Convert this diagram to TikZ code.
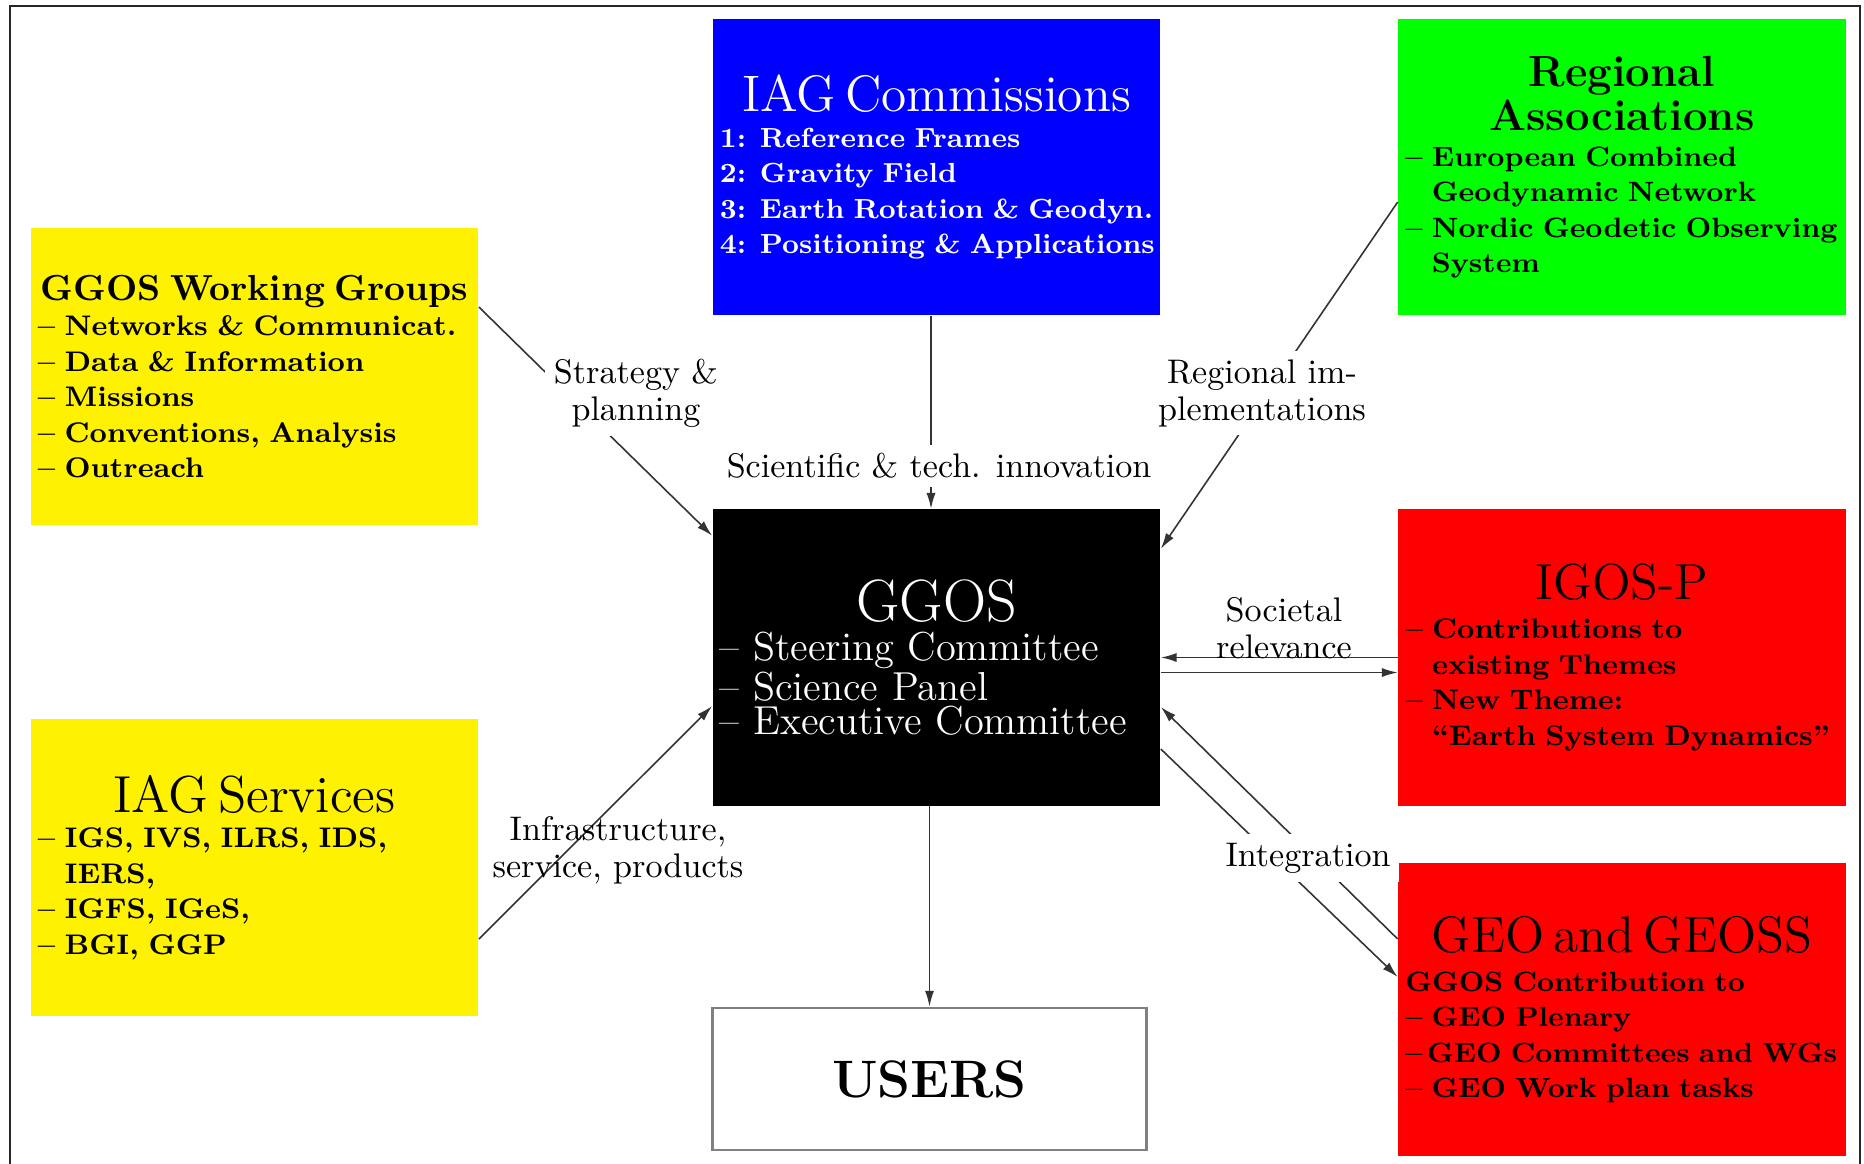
\documentclass[tikz,border=0pt]{standalone}
\usetikzlibrary{arrows.meta}
\setlength{\lineskiplimit}{-20pt}
\hyphenpenalty=10000
\exhyphenpenalty=10000
\newcommand{\boxtitle}[2]{\makebox[\hsize]{\fontsize{#1}{#1}\selectfont #2}}
\newcommand{\widelines}{\rightskip=-1cm plus 1fil\relax}
\begin{document}
\begin{tikzpicture}[x=0.01cm,y=-0.01cm]

    \useasboundingbox (0,0) rectangle (1864,1163);
    \draw[line width=0.8pt,black!85] (10,6) rectangle (1860,1200);

    \tikzset{box/.style={shape=rectangle,minimum width=4.47cm,minimum height=2.96cm,
        inner xsep=0.07cm,inner ysep=0pt,text width=4.33cm,align=left,
        font=\fontsize{8.05}{10.1}\selectfont\bfseries}}
    \tikzset{lbl/.style={align=center,inner sep=2.5pt,font=\fontsize{9.7}{10.5}\selectfont}}

    \node[box,fill=blue,text=white,font=\fontsize{7.85}{10.1}\selectfont\bfseries] (comm) at (936.5,167)
        {\widelines\boxtitle{14.6}{\mdseries IAG Commissions}\\
         1: Reference Frames\\
         2: Gravity Field\\
         3: Earth Rotation \& Geodyn.\\
         4: Positioning \& Applications\par};
    \node[box,fill=green,font=\fontsize{7.95}{10.1}\selectfont\bfseries] (regio) at (1622,167)
        {\widelines\boxtitle{12.4}{Regional}\\[0.5pt]
         \boxtitle{12.4}{Associations}\\
         -- European Combined\\
         \phantom{--} Geodynamic Network\\
         -- Nordic Geodetic Observing\\
         \phantom{--} System\par};
    \node[box,fill=yellow] (wg) at (254.5,376.5)
        {\widelines\boxtitle{10.3}{GGOS Working Groups}\\
         -- Networks \& Communicat.\\
         -- Data \& Information\\
         -- Missions\\
         -- Conventions, Analysis\\
         -- Outreach\par};
    \node[box,fill=yellow] (serv) at (254.5,867.5)
        {\widelines\boxtitle{14.8}{\mdseries IAG Services}\\
         -- IGS, IVS, ILRS, IDS,\\
         \phantom{--} IERS,\\
         -- IGFS, IGeS,\\
         -- BGI, GGP\par};
    \node[box,fill=black,text=white,font=\fontsize{11.5}{9.7}\selectfont] (ggos) at (936.5,657.5)
        {\widelines\boxtitle{17}{GGOS}\\[1.5pt]
         -- Steering Committee\\
         -- Science Panel\\
         -- Executive Committee\par};
    \node[box,fill=red] (igos) at (1622,657.5)
        {\widelines\boxtitle{14.4}{\mdseries IGOS-P}\\[1pt]
         -- Contributions to\\
         \phantom{--} existing Themes\\
         -- New Theme:\\
         \phantom{--} ``Earth System Dynamics''\par};
    \node[box,fill=red,minimum height=2.93cm,font=\fontsize{7.9}{10.1}\selectfont\bfseries] (geo) at (1622,1009.5)
        {\widelines\boxtitle{14.6}{\mdseries GEO and GEOSS}\\[1pt]
         GGOS Contribution to\\
         -- GEO Plenary\\
         --\,GEO Committees and WGs\\
         -- GEO Work plan tasks\par};
    \node[draw=black!50,line width=0.8pt,minimum width=4.33cm,minimum height=1.42cm,
        font=\fontsize{15}{15}\selectfont\bfseries] (users) at (929.5,1079) {USERS};

    \begin{scope}[every path/.style={-{Latex[length=4.5pt,width=2.6pt]},line width=0.45pt,black!80}]
        \draw ([yshift=0.695cm]wg.east) -- ([yshift=-0.27cm]ggos.north west);
        \draw ([xshift=-0.055cm]comm.south) -- ([xshift=-0.055cm]ggos.north);
        \draw ([yshift=-0.35cm]regio.west) -- ([yshift=-0.40cm]ggos.north east);
        \draw (igos.west) -- (ggos.east);
        \draw ([yshift=-0.15cm]ggos.east) -- ([yshift=-0.15cm]igos.west);
        \draw ([yshift=-0.715cm]serv.east) -- ([yshift=-0.485cm]ggos.west);
        \draw ([yshift=-0.915cm]ggos.east) -- ([yshift=0.325cm]geo.west);
        \draw ([yshift=0.705cm]geo.west) -- ([yshift=-0.495cm]ggos.east);
        \draw (users.north |- ggos.south) -- (users.north);
    \end{scope}

    \node[lbl,fill=white] (strat) at (636,393) {Strategy \&\\planning};
    \node[lbl,fill=white] (sci) at (939,466) {Scientific \& tech. innovation};
    \node[lbl,fill=white] (regimp) at (1262,393) {Regional im-\\plementations};
    \node[lbl] (soc) at (1284,628) {Societal\\relevance};
    \node[lbl] (infra) at (618,850) {Infrastructure,\\service, products};
    \node[lbl,fill=white] (integ) at (1308,858) {Integration};
\end{tikzpicture}
\end{document}
